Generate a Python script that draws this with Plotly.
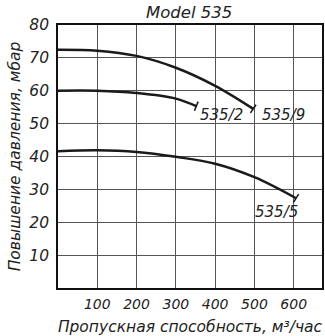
import plotly.graph_objects as go

# Data
x_9 = [0, 100, 200, 300, 400, 497]
y_9 = [72.5, 72.2, 70.6, 67.0, 61.5, 54.5]
x_2 = [0, 100, 200, 300, 352]
y_2 = [60.0, 60.0, 59.3, 57.6, 55.3]
x_5 = [0, 100, 200, 300, 400, 500, 606]
y_5 = [41.6, 41.9, 41.4, 39.9, 37.8, 33.7, 27.3]
labels = ["535/9", "535/2", "535/5"]
label_x = [514, 356, 496]
label_y = [52.7, 52.7, 23.1]
x_ticks = [100, 200, 300, 400, 500, 600]
y_ticks = [10, 20, 30, 40, 50, 60, 70, 80]

FONT = "DejaVu Sans"
INK = "#1a1a1a"
TXT = "#222"
fig = go.Figure()
series = [(x_9, y_9), (x_2, y_2), (x_5, y_5)]
for xs, ys in series:
    fig.add_trace(go.Scatter(x=xs, y=ys, mode="lines", line=dict(color=INK, width=2.5, shape="spline"),
                             showlegend=False, hoverinfo="skip"))
# end caps
angles = [35, 22, 32]
for (xs, ys), a in zip(series, angles):
    fig.add_trace(go.Scatter(x=[xs[-1]], y=[ys[-1]], mode="markers",
                             marker=dict(symbol="line-ns", size=7, angle=a, line=dict(color=INK, width=1.6)),
                             showlegend=False, hoverinfo="skip"))

for lab, lx, ly in zip(labels, label_x, label_y):
    fig.add_annotation(x=lx, y=ly, text=lab, showarrow=False, xanchor="left", yanchor="middle",
                       font=dict(family=FONT, size=15, color=TXT, style="italic"))

fig.update_layout(
    width=325, height=336,
    margin=dict(l=58, r=3, t=25, b=48),
    paper_bgcolor="white", plot_bgcolor="white",
    title=dict(text="Model 535", x=0.582, xanchor="center", y=0.963, yanchor="middle",
               font=dict(family=FONT, size=16.5, color=TXT, style="italic")),
    xaxis=dict(range=[0, 672], tickvals=x_ticks, ticktext=[str(v) for v in x_ticks],
               showgrid=True, gridcolor="#555", gridwidth=1, automargin=False,
               showline=True, linecolor="#111", linewidth=1.8, mirror=True,
               ticks="", zeroline=False, ticklabelstandoff=2,
               tickfont=dict(family=FONT, size=14, color=TXT, style="italic"),
               title=dict(text="Пропускная способность, м³/час", standoff=12,
                          font=dict(family=FONT, size=15.5, color=TXT, style="italic"))),
    yaxis=dict(range=[0, 80], tickvals=y_ticks, ticktext=[str(v) for v in y_ticks],
               showgrid=True, gridcolor="#555", gridwidth=1, automargin=False,
               showline=True, linecolor="#111", linewidth=1.8, mirror=True,
               ticks="", zeroline=False, ticklabelstandoff=4,
               tickfont=dict(family=FONT, size=15.5, color=TXT, style="italic"),
               title=dict(text="Повышение давления, мбар", standoff=5,
                          font=dict(family=FONT, size=15.5, color=TXT, style="italic"))),
)
fig.write_html("out.html", config={"displayModeBar": False},
               post_script="document.body.style.margin='0';")
